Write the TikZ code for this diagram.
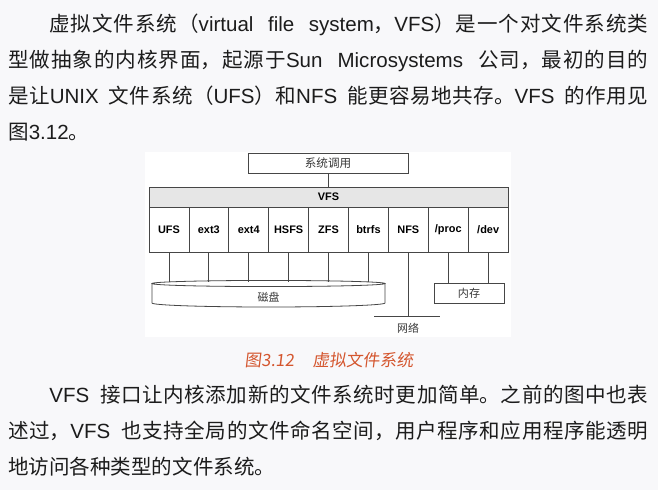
\documentclass[tikz,border=0pt]{standalone}
\usepackage{fontspec}
\setmainfont{Noto Sans CJK SC}
\newfontfamily\cjk{Noto Sans CJK SC}
\newfontfamily\capfont{Noto Sans CJK SC}[FakeSlant=0.12]
\newfontfamily\arial{Liberation Sans}
\newcommand\lat[1]{{\arial #1}}
\newcommand\paraset{\tolerance=10000 \spaceskip=0.25em plus 10pt minus 0.05em\relax}
\XeTeXlinebreaklocale "zh"
\XeTeXlinebreakskip=0pt plus 1pt
\definecolor{pagebg}{RGB}{248,248,250}
\definecolor{txt}{RGB}{28,28,28}
\definecolor{capc}{RGB}{212,86,46}
\definecolor{ln}{RGB}{70,70,70}
\definecolor{band}{RGB}{230,230,230}
\definecolor{lbl}{RGB}{55,55,55}
\tikzset{
  para/.style={anchor=base west, inner sep=0pt, text width=480pt, align=justify, text=txt,
    font=\fontsize{15.4}{27}\selectfont},
  dline/.style={draw=ln, line width=0.6pt},
  fsbox/.style={draw=ln, line width=0.6pt, minimum width=29.925pt, minimum height=33.75pt,
    inner sep=0pt, text=black, font=\arial\bfseries\fontsize{8.2}{10}\selectfont},
  graybox/.style={draw=ln, line width=0.6pt, minimum height=15pt, inner sep=0pt, text=lbl,
    font=\cjk\fontsize{8.3}{10}\selectfont},
  glabel/.style={inner sep=0pt, text=lbl, font=\cjk\fontsize{8.2}{10}\selectfont},
}
\begin{document}
\begin{tikzpicture}[x=0.75pt,y=-0.75pt]
\useasboundingbox (0,0) rectangle (658,490);
\fill[pagebg] (0,0) rectangle (658,490);
\fill[white] (145,152) rectangle (511,337);

% paragraph 1
\node[para] (p1) at (8,31.5) {\paraset\hspace*{2em}虚拟文件系统（\lat{virtual file system}，\lat{VFS}）是一个对文件系统类\linebreak
型做抽象的内核界面，起源于\lat{Sun Microsystems} 公司，最初的目的\linebreak
是让\lat{UNIX} 文件系统（\lat{UFS}）和\lat{NFS} 能更容易地共存。\lat{VFS} 的作用见\linebreak
图\lat{3.12}。};

% diagram
\node[graybox, minimum width=120pt, font=\cjk\fontsize{8.7}{10}\selectfont] (sys) at (328,163) {系统调用};
\node[draw=ln, line width=0.6pt, fill=band, minimum width=269.25pt, minimum height=15pt, inner sep=0pt,
  text=black, font=\arial\bfseries\fontsize{8.2}{10}\selectfont] (vfs) at (328.5,197) {VFS};
\draw[dline] (sys.south) -- (sys.south |- vfs.north);

\foreach \n/\t [count=\i from 0] in {ufs/UFS, extthree/ext3, extfour/ext4, hsfs/HSFS, zfs/ZFS, btrfs/btrfs, nfs/NFS, proc/\slash proc, dev/\slash dev}
  \node[fsbox] (\n) at ({149+39.9*(\i+0.5)},229.5) {\t};

% disk
\coordinate (disktop) at (268.5,282);
\draw[dline] (268.5,283.5) ellipse [x radius=87.375pt, y radius=2.3pt];
\draw[dline] (152,283.5) -- (152,303) arc[start angle=180, end angle=360, x radius=87.375pt, y radius=3pt] -- (385,283.5);
\node[glabel] (disk) at (268.5,297) {磁盘};
\foreach \n in {ufs, extthree, extfour, hsfs, zfs, btrfs}
  \draw[dline] (\n.south) -- (\n.south |- disktop);

% network
\coordinate (net) at (408,316);
\coordinate (netl) at (374,316);
\coordinate (netr) at (440,316);
\draw[dline] (nfs.south) -- (nfs.south |- net);
\draw[dline] (netl) -- (netr);
\node[glabel] (netlbl) at (408,328) {网络};

% memory
\node[graybox, minimum width=52.5pt] (mem) at (469,293) {内存};
\draw[dline] (proc.south) -- (proc.south |- mem.north);
\draw[dline] (dev.south) -- (dev.south |- mem.north);

% caption
\node[anchor=base, inner sep=0pt, text=capc, font=\capfont\fontsize{12.6}{14}\selectfont] (cap) at (329,366)
  {图3.12\hspace{1.1em}虚拟文件系统};

% paragraph 2
\node[para] (p2) at (8,402.5) {\paraset\hspace*{2em}\lat{VFS} 接口让内核添加新的文件系统时更加简单。之前的图中也表\linebreak
述过，\lat{VFS} 也支持全局的文件命名空间，用户程序和应用程序能透明\linebreak
地访问各种类型的文件系统。};
\end{tikzpicture}
\end{document}
